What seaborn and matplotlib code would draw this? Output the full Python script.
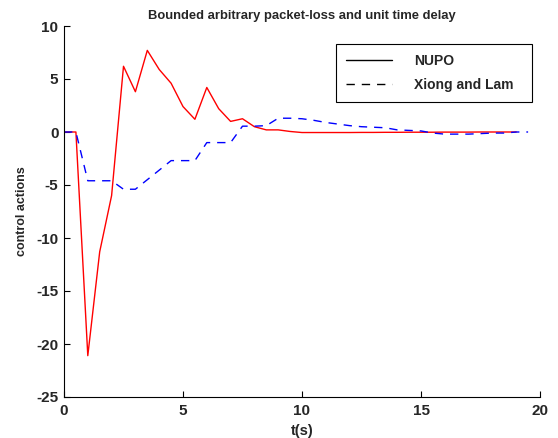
import numpy as np
import pandas as pd
import seaborn as sns
import matplotlib
matplotlib.use("Agg")
import matplotlib.pyplot as plt
from matplotlib.lines import Line2D

t_nupo = [0, 0.5, 1, 1.5, 2, 2.5, 3, 3.5, 4, 4.5, 5, 5.5, 6, 6.5, 7, 7.5, 8, 8.5, 9, 9.5,
          10, 10.5, 11, 11.5, 12, 12.5, 13, 13.5, 14, 14.5, 15, 15.5, 16, 16.5, 17, 17.5, 18, 18.5, 19]
u_nupo = [0, 0, -21.1, -11.3, -6.0, 6.2, 3.8, 7.7, 5.9, 4.6, 2.4, 1.2, 4.2, 2.2, 1.0, 1.25, 0.5, 0.2, 0.2, 0.05,
          -0.05, -0.05, -0.05, -0.05, -0.05, -0.04, -0.04, -0.03, -0.03, -0.02, -0.02, -0.02, -0.01, -0.01, -0.01, 0, 0, 0, 0]

t_xl = [0, 0.5, 1, 1.5, 2, 2.5, 3, 3.5, 4, 4.5, 5, 5.5, 6, 6.5, 7, 7.5, 8, 8.5, 9, 9.5,
        10, 10.5, 11, 11.5, 12, 12.5, 13, 13.5, 14, 14.5, 15, 15.5, 16, 16.5, 17, 17.5, 18, 18.5, 19, 19.5]
u_xl = [0, 0, -4.6, -4.6, -4.6, -5.4, -5.4, -4.5, -3.6, -2.7, -2.7, -2.7, -1.0, -1.0, -1.0, 0.55, 0.55, 0.6, 1.3, 1.3,
        1.25, 1.1, 0.9, 0.75, 0.6, 0.5, 0.45, 0.4, 0.2, 0.15, 0.1, -0.1, -0.2, -0.2, -0.2, -0.15, -0.1, -0.1, 0, 0]

title = "Bounded arbitrary packet-loss and unit time delay"
xlabel = "t(s)"
ylabel = "control actions"
legend_labels = ["NUPO", "Xiong and Lam"]
xticks = [0, 5, 10, 15, 20]
yticks = [-25, -20, -15, -10, -5, 0, 5, 10]

sns.set_style("white")
plt.rcParams['font.family'] = ['Liberation Sans', 'DejaVu Sans']
plt.rcParams['font.weight'] = 'bold'

df1 = pd.DataFrame({"t": t_nupo, "u": u_nupo})
df2 = pd.DataFrame({"t": t_xl, "u": u_xl})

fig = plt.figure(figsize=(5.58, 4.38), dpi=100)
ax = fig.add_axes([64/558, 1-397/438, (540-64)/558, (397-26)/438])

sns.lineplot(data=df1, x="t", y="u", ax=ax, color="#ff0000", linewidth=1.0)
sns.lineplot(data=df2, x="t", y="u", ax=ax, color="#0000ff", linewidth=1.0, linestyle=(0, (6, 5)))

ax.set_xlim(0, 20)
ax.set_ylim(-25, 10)
ax.set_xticks(xticks)
ax.set_yticks(yticks)
ax.set_xticklabels([str(v) for v in xticks], fontsize=11, fontweight='bold')
ax.set_yticklabels([str(v) for v in yticks], fontsize=11, fontweight='bold')
ax.tick_params(direction='in', length=4, width=0.8, color='black', bottom=True, left=True)
ax.tick_params(axis='x', pad=5)
ax.tick_params(axis='y', pad=4)
sns.despine(ax=ax)
for s in ['left', 'bottom']:
    ax.spines[s].set_color('black')
    ax.spines[s].set_linewidth(0.8)

ax.set_title(title, fontsize=9.4, fontweight='bold', pad=5)
ax.set_xlabel(xlabel, fontsize=10.5, fontweight='bold', labelpad=4)
ax.set_ylabel(ylabel, fontsize=9, fontweight='bold', labelpad=6)

handles = [Line2D([], [], color='black', linewidth=1.0),
           Line2D([], [], color='black', linewidth=1.0, linestyle=(0, (6, 5)))]
x0 = (336 - 64) / 476
w = 196 / 476
ytop = (397 - 44) / 371
leg = ax.legend(handles, legend_labels, loc='upper left', bbox_to_anchor=(x0, ytop - 0.3, w, 0.3),
                mode='expand', borderaxespad=0, fancybox=False, edgecolor='black', framealpha=1,
                handlelength=3.3, handletextpad=1.6, borderpad=0.7, labelspacing=0.75,
                prop={'weight': 'bold', 'size': 10})
leg.get_frame().set_linewidth(0.8)

fig.savefig("out.png", dpi=100)
